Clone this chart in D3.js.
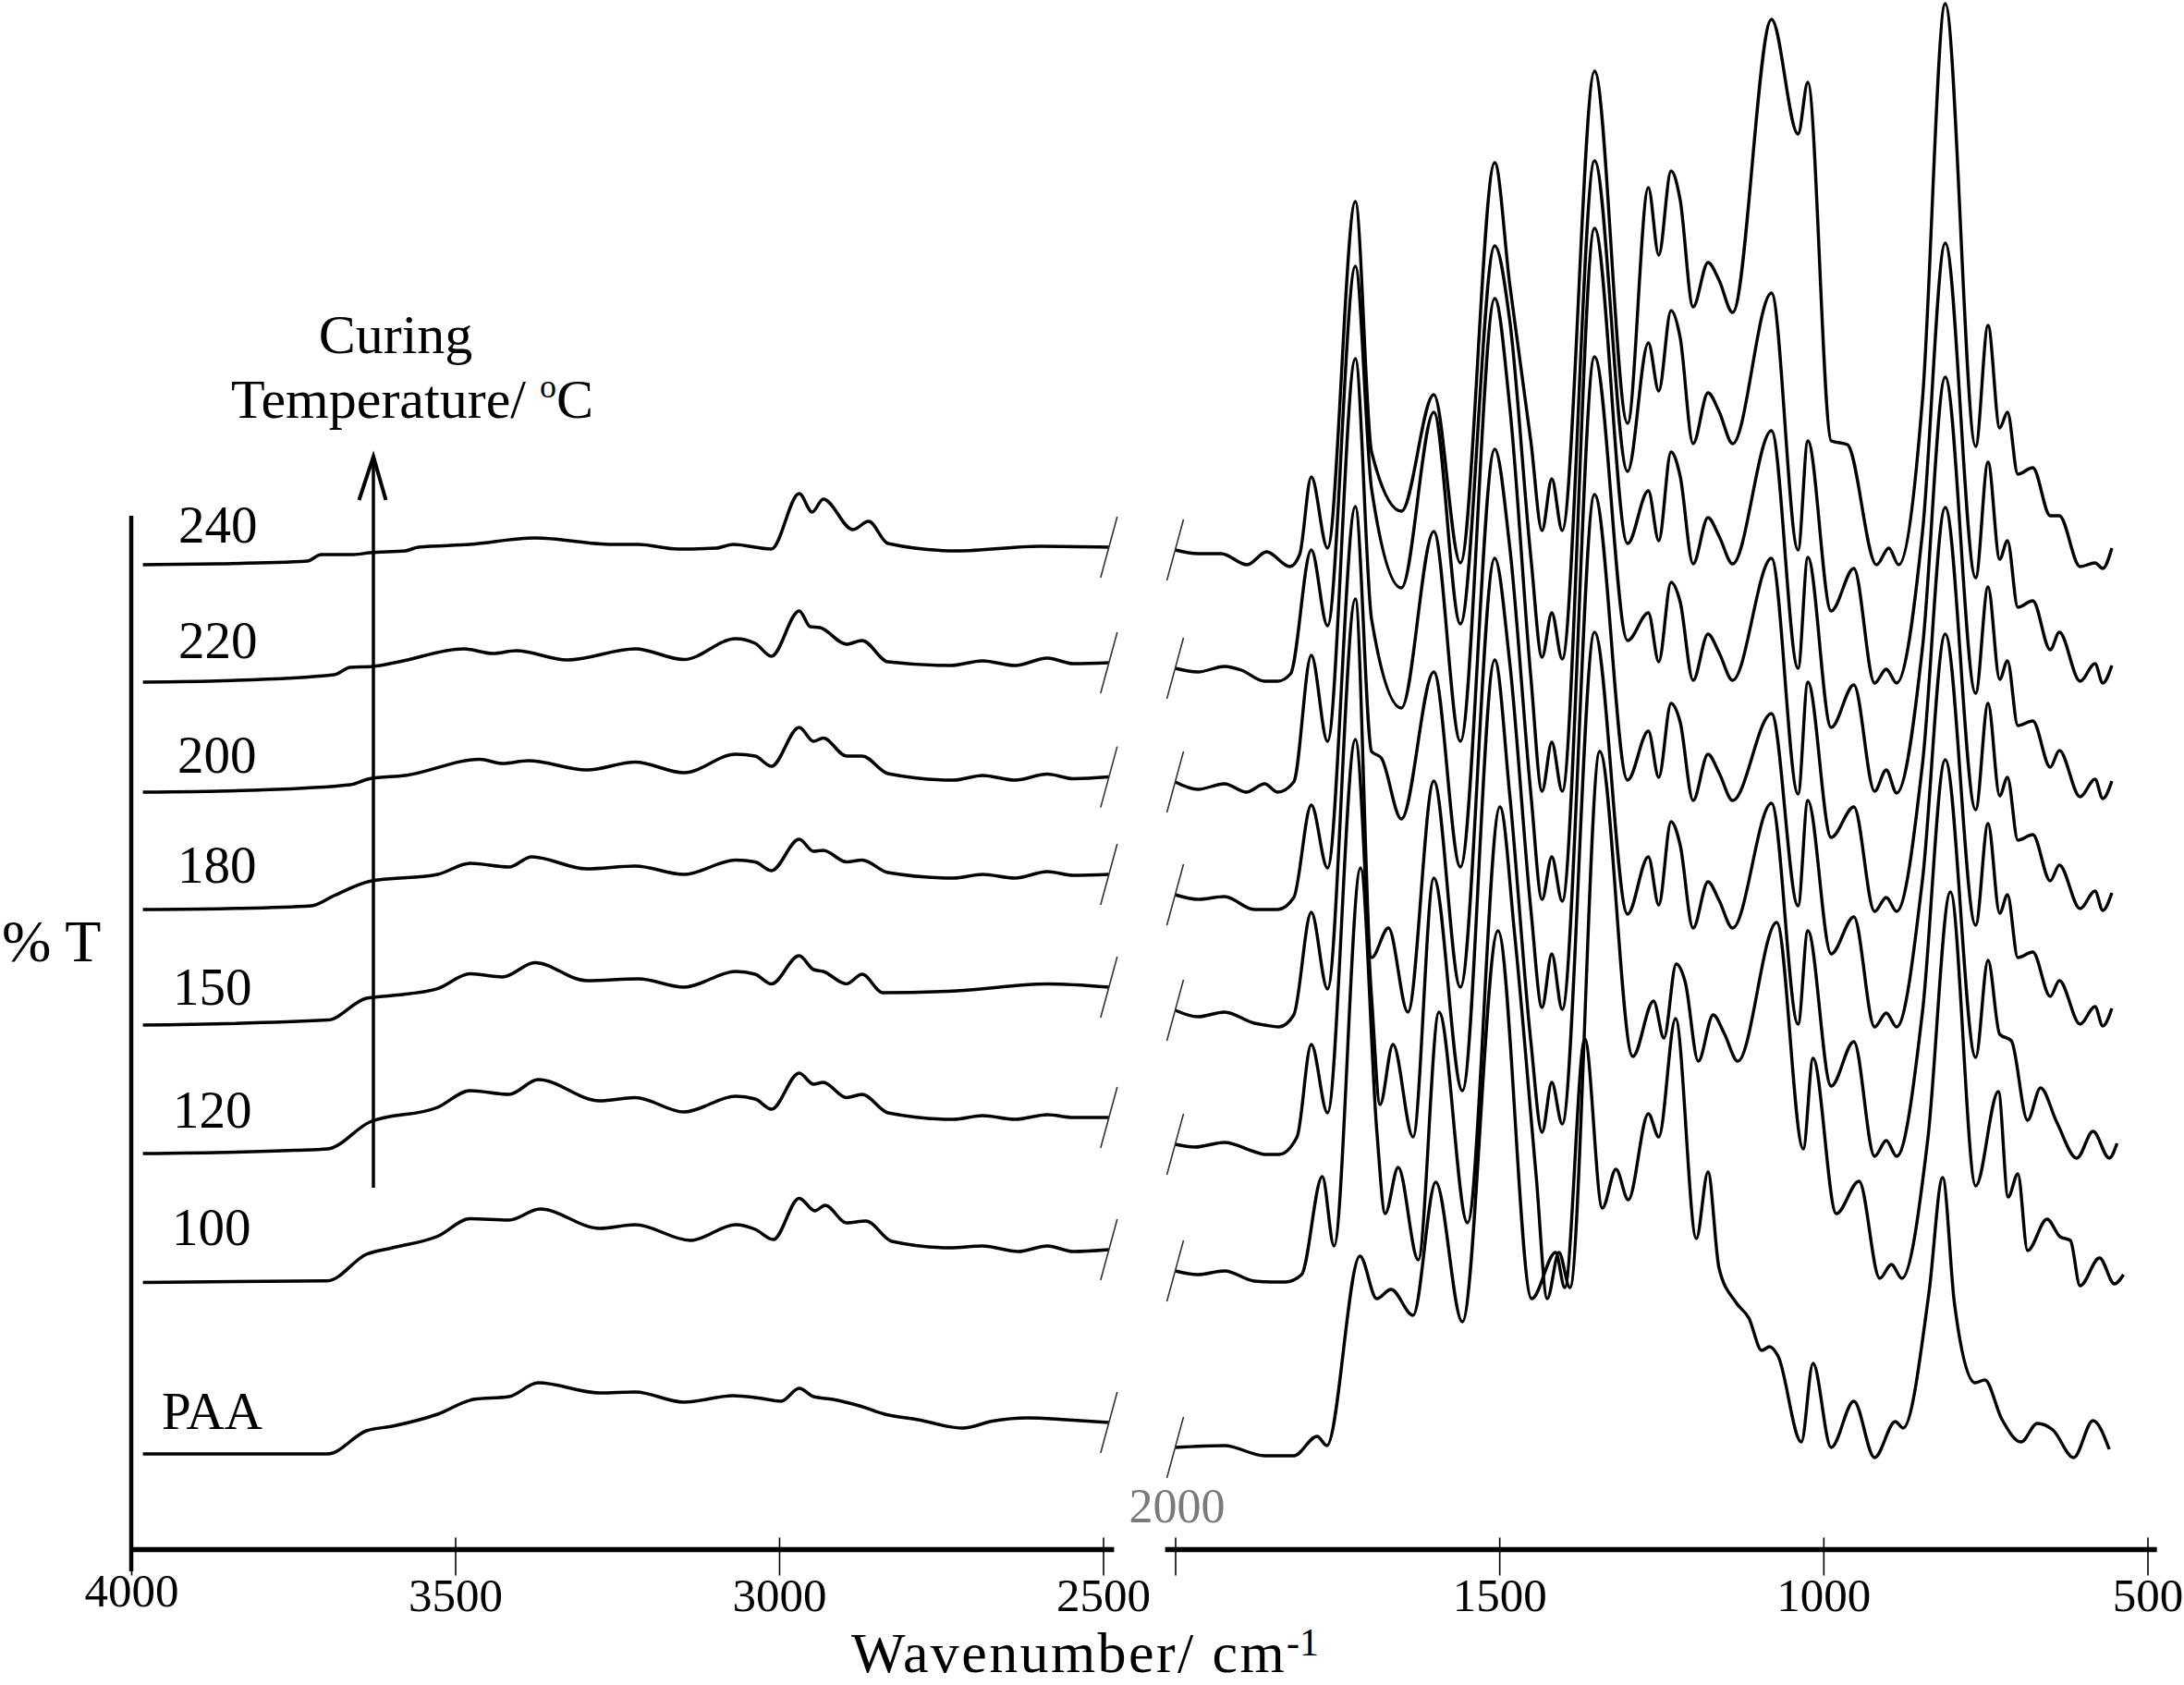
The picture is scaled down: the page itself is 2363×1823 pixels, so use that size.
<!DOCTYPE html>
<html><head><meta charset="utf-8">
<script src="https://cdn.jsdelivr.net/npm/d3@7"></script>
<style>body{margin:0;background:#fff}svg{display:block}text{font-family:"Liberation Serif","Times New Roman",serif;fill:#000}</style>
</head><body>
<svg id="chart" width="2363" height="1823"></svg>
<script>
// ---------------- DATA ----------------
const seriesNames = ["240","220","200","180","150","120","100","PAA"];
// vertical offset of each spectrum (arbitrary %T units)
const offsets = [1083, 951, 826, 705, 580, 437, 303, 112];
const leftTicks = [4000, 3500, 3000, 2500];
const rightTicks = [1500, 1000, 500];
const breakTickLabel = 2000;

// left region: [wavenumber, relative %T]
const L240 = [[3982,-18],[3867,-17],[3728,-14],[3707,-7],[3657,-7],[3632,-5],[3577,-3],[3557,1],[3477,4],[3377,11],[3257,4],[3217,4],[3157,-1],[3097,0],[3071,4],[3012,-1],[2969,59],[2949,39],[2932,53],[2886,20],[2862,29],[2832,5],[2726,-3],[2597,2],[2491,1]];
const L220 = [[3982,-13],[3857,-11.5],[3687,-5],[3662,3],[3627,4],[3587,9],[3487,23],[3442,18],[3406,21],[3327,11],[3222,23],[3147,11.5],[3067,34],[3037,29],[3012,15],[2969,64],[2952,47],[2937,46],[2896,28],[2872,32],[2832,9],[2736,5],[2686,10],[2636,5],[2586,13],[2546,7],[2491,8]];
const L200 = [[3982,-7],[3817,-5],[3662,1],[3632,7.5],[3577,11],[3462,28.5],[3427,24],[3387,27],[3297,17],[3222,25.5],[3147,14],[3067,34],[3037,32],[3012,21],[2969,63],[2947,48],[2932,51.5],[2896,32],[2872,32],[2832,13],[2731,6],[2686,11],[2636,6],[2586,12.5],[2546,7.5],[2491,9.4]];
const L180 = [[3982,-13],[3852,-12],[3722,-9],[3687,2],[3632,17.5],[3527,25],[3477,37],[3417,33],[3382,44],[3297,31],[3222,34],[3147,25],[3067,40.5],[3037,38.5],[3012,29],[2969,63],[2947,50],[2932,51],[2896,38.5],[2872,40.5],[2832,27],[2731,21],[2686,25],[2636,21],[2586,28],[2546,24],[2491,25]];
const L150 = [[3982,-13],[3697,-7.6],[3637,16],[3597,19],[3527,26.4],[3477,42.4],[3427,39],[3377,54.5],[3297,35],[3217,37],[3147,28],[3067,45],[3037,42],[3012,31.5],[2969,62],[2947,47],[2932,45],[2896,31.5],[2872,42],[2840,22],[2726,24],[2586,31.5],[2491,28]];
const L120 = [[3982,-9],[3748,-5.6],[3697,-4],[3632,25],[3527,41],[3477,59],[3417,55],[3372,71],[3277,48],[3222,51.5],[3147,36],[3067,53],[3037,50],[3012,39],[2969,78],[2947,66],[2932,68],[2896,51.5],[2872,55],[2832,35],[2731,28],[2686,32],[2636,28],[2586,33],[2546,30],[2491,30]];
const L100 = [[3982,-14.5],[3697,-12.7],[3637,16],[3597,23],[3527,35.5],[3477,54.4],[3417,53],[3369,65],[3277,44],[3222,48],[3137,31],[3067,48],[3037,43],[3009,32],[2969,76.6],[2945,63],[2929,69],[2896,50],[2866,52],[2826,30],[2736,23],[2686,25],[2631,19],[2586,25],[2546,19],[2491,21]];
const LPAA = [[3982,-9],[3697,-9],[3637,16],[3597,21],[3527,34],[3472,50],[3417,53],[3372,68],[3277,57],[3222,58],[3147,47],[3071,54],[3032,51.5],[2997,48],[2969,62],[2947,53],[2917,50],[2876,43],[2837,34],[2786,28],[2716,19],[2671,26.5],[2616,30],[2557,28],[2491,25]];

// right region: [wavenumber, relative %T]
const R240 = [[2000,-2],[1965,-6],[1929,-6],[1889,-18],[1859,-4],[1823,-20],[1808,-7],[1790,77],[1765,0],[1722,375],[1697,104],[1651,40],[1601,166],[1560,-16],[1507,417],[1484,286],[1451,114],[1434,19],[1419,75],[1403,19],[1353,516],[1302,135],[1270,390],[1254,317],[1235,408],[1221,377],[1201,261],[1178,309],[1161,290],[1140,255],[1080,572],[1039,448],[1024,504],[988,116],[963,112],[918,-18],[899,0],[884,-18],[847,162],[812,589],[765,110],[746,241],[728,130],[716,147],[700,80],[677,87],[650,35],[636,35],[604,-20],[581,-16],[569,-22],[555,0]];
const R220 = [[2000,2],[1965,-2],[1924,4],[1898,0],[1862,-12],[1842,-12],[1822,-4],[1790,130],[1765,48],[1722,437],[1697,196],[1651,89],[1601,279],[1560,50],[1507,459],[1484,379],[1451,120],[1434,14],[1419,62],[1403,12],[1353,551],[1302,215],[1270,354],[1254,302],[1235,389],[1221,360],[1201,245],[1178,300],[1161,280],[1140,245],[1080,408],[1039,130],[1024,248],[988,64],[953,110],[921,-14],[903,1],[887,-14],[847,150],[812,462],[765,100],[746,225],[728,120],[716,140],[700,68],[677,75],[650,22],[636,41],[604,-12],[581,7],[569,-14],[555,5]];
const R200 = [[2000,4],[1965,-4],[1924,2],[1890,-7],[1862,2],[1842,-7],[1817,4],[1790,141],[1765,48],[1722,462],[1697,180],[1651,84],[1601,275],[1560,48],[1507,527],[1484,411],[1451,115],[1434,-6],[1419,47],[1403,-6],[1353,603],[1302,262],[1270,319],[1254,265],[1235,361],[1221,335],[1201,240],[1178,290],[1161,270],[1140,240],[1080,384],[1039,127],[1024,247],[988,63],[953,109],[921,-6],[903,17],[887,-8],[847,150],[812,442],[765,100],[746,215],[728,115],[716,135],[700,65],[677,70],[650,20],[636,38],[604,-12],[581,7],[569,-14],[555,5]];
const R180 = [[2000,3],[1965,-2],[1924,1],[1878,-13],[1842,-13],[1817,0],[1790,100],[1765,32],[1722,423],[1697,158],[1682,151],[1651,85],[1601,244],[1560,33],[1507,485],[1484,380],[1451,110],[1434,-2],[1419,44],[1403,-4],[1353,585],[1302,278],[1270,308],[1254,255],[1235,341],[1221,320],[1201,235],[1178,285],[1161,265],[1140,235],[1080,367],[1039,112],[1024,233],[988,65],[953,98],[921,-15],[903,0],[887,-15],[847,145],[812,422],[765,95],[746,210],[728,110],[716,130],[700,62],[677,68],[650,18],[636,35],[604,-12],[581,7],[569,-14],[555,5]];
const R150 = [[2000,3],[1965,-4],[1924,1],[1878,-11],[1862,-13],[1840,-15],[1817,-2],[1790,109],[1765,26],[1722,448],[1697,60],[1671,92],[1641,1],[1601,251],[1560,28],[1507,492],[1484,380],[1451,110],[1434,6],[1419,64],[1403,4],[1353,561],[1302,252],[1270,305],[1254,255],[1235,335],[1221,315],[1201,230],[1178,280],[1161,260],[1140,230],[1080,324],[1039,116],[1024,230],[988,64],[953,104],[921,-15],[903,0],[887,-15],[847,145],[812,410],[765,95],[746,205],[728,108],[716,128],[700,60],[677,66],[650,18],[636,35],[604,-12],[581,7],[569,-14],[555,5]];
const R120 = [[2000,1],[1970,-2],[1924,3],[1878,-7],[1862,-10],[1840,-10],[1812,9],[1790,109],[1765,35],[1722,439],[1697,160],[1684,44],[1664,109],[1633,9],[1601,289],[1557,59],[1507,525],[1484,380],[1451,110],[1434,14],[1419,68],[1403,23],[1353,555],[1302,250],[1270,312],[1254,260],[1235,350],[1221,325],[1201,235],[1178,285],[1161,265],[1140,235],[1080,370],[1039,131],[1024,232],[988,64],[953,112],[921,-12],[903,5],[887,-12],[847,145],[812,417],[765,95],[746,200],[728,120],[710,113],[685,27],[665,62],[640,25],[609,-14],[584,15],[559,-14],[547,2]];
const R100 = [[2000,-2],[1965,-6],[1924,-2],[1878,-13],[1850,-14],[1830,-14],[1805,-6],[1773,100],[1755,25],[1714,434],[1689,150],[1676,60],[1656,110],[1625,10],[1593,278],[1549,50],[1499,500],[1476,360],[1443,100],[1426,-32],[1408,18],[1391,-20],[1345,560],[1294,230],[1262,290],[1246,250],[1227,330],[1213,310],[1193,225],[1170,275],[1153,255],[1132,225],[1072,375],[1031,130],[1016,228],[980,60],[945,95],[913,-10],[895,5],[879,-10],[839,140],[804,408],[765,90],[730,192],[715,78],[700,103],[685,20],[655,54],[635,35],[619,31],[604,-18],[574,12],[551,-16],[537,-6]];
const RPAA = [[2000,-2],[1924,0],[1862,-11],[1817,-11],[1781,10],[1766,0],[1715,205],[1689,159],[1667,169],[1633,141],[1598,285],[1557,134],[1502,557],[1450,159],[1413,209],[1399,171],[1368,440],[1341,257],[1320,299],[1301,266],[1270,359],[1254,334],[1228,462],[1196,224],[1178,296],[1161,192],[1135,155],[1115,138],[1095,103],[1083,107],[1070,97],[1034,4],[1016,89],[988,-2],[953,48],[921,-13],[889,26],[877,19],[837,166],[816,290],[798,155],[766,68],[751,71],[725,29],[695,4],[670,24],[646,17],[614,-13],[584,27],[559,-4]];

const leftData  = [L240, L220, L200, L180, L150, L120, L100, LPAA];
const rightData = [R240, R220, R200, R180, R150, R120, R100, RPAA];

// ---------------- DRAW ----------------
const svg = d3.select("#chart");
const axisY = 1676.5;
const xL = d3.scaleLinear().domain([4000, 2500]).range([142, 1193.5]);
const xR = d3.scaleLinear().domain([2000, 500]).range([1271.5, 2323.5]);
const y  = d3.scaleLinear().domain([0, 1676]).range([1676, 0]);
const serif = '"Liberation Serif","Times New Roman",serif';

seriesNames.forEach((name, i) => {
  const off = offsets[i];
  const lineL = d3.line().x(d => xL(d[0])).y(d => y(off + d[1])).curve(d3.curveMonotoneX);
  const lineR = d3.line().x(d => xR(d[0])).y(d => y(off + d[1])).curve(d3.curveMonotoneX);
  const l = leftData[i].slice().sort((a,b)=>b[0]-a[0]);
  const r = rightData[i].slice().sort((a,b)=>b[0]-a[0]);
  svg.append("path").attr("d", lineL(l))
     .attr("fill","none").attr("stroke","#000").attr("stroke-width",3.5).attr("stroke-linejoin","round");
  svg.append("path").attr("d", lineR(r))
     .attr("fill","none").attr("stroke","#000").attr("stroke-width",3.4).attr("stroke-linejoin","round");
  const le = l[l.length-1], rs = r[0];
  [[xL(le[0]), y(off + le[1])],[xR(rs[0]), y(off + rs[1])]].forEach(([bx,by]) => {
    svg.append("line").attr("x1",bx+9).attr("y1",by-33).attr("x2",bx-9).attr("y2",by+33)
       .attr("stroke","#333").attr("stroke-width",1.6);
  });
});

const labelPos = [[193,587],[193,712],[192,836],[192,955],[187,1087],[187,1220],[186,1347],[175,1546]];
seriesNames.forEach((name,i)=>{
  svg.append("text").attr("x",labelPos[i][0]).attr("y",labelPos[i][1])
     .style("font-size","57px").text(name);
});

// y axis line
svg.append("line").attr("x1",142).attr("x2",142).attr("y1",558).attr("y2",1700)
   .attr("stroke","#000").attr("stroke-width",4.5);

// x axis (two segments)
svg.append("line").attr("x1",xL(4000)).attr("x2",xL(2483)).attr("y1",axisY).attr("y2",axisY)
   .attr("stroke","#000").attr("stroke-width",5.5);
svg.append("line").attr("x1",xR(2015.5)).attr("x2",xR(485.5)).attr("y1",axisY).attr("y2",axisY)
   .attr("stroke","#000").attr("stroke-width",5.5);

function styleAxis(g){
  g.select(".domain").remove();
  g.selectAll(".tick line").attr("y1",-13).attr("y2",28).attr("stroke","#000").attr("stroke-width",1.6);
  g.selectAll(".tick text").attr("y",66).attr("dy",0).attr("fill","#000")
    .style("font-family",serif).style("font-size","51px");
}
const gL = svg.append("g").attr("transform",`translate(0,${axisY})`)
  .call(d3.axisBottom(xL).tickValues(leftTicks).tickFormat(d3.format("d")));
styleAxis(gL);
gL.selectAll(".tick").filter(d=>d===4000).select("text").attr("y",61);
const gR = svg.append("g").attr("transform",`translate(0,${axisY})`)
  .call(d3.axisBottom(xR).tickValues([breakTickLabel].concat(rightTicks)).tickFormat(d=> d===breakTickLabel ? "" : d3.format("d")(d)));
styleAxis(gR);
svg.append("text").attr("x",xR(breakTickLabel)+2).attr("y",1647).attr("text-anchor","middle")
   .style("font-size","52px").style("fill","#7a7a7a").text(String(breakTickLabel));

// axis titles
const xt = svg.append("text").attr("x",921).attr("y",1809).style("font-size","62px");
xt.append("tspan").style("letter-spacing","2.4px").text("Wavenumber/ cm");
xt.append("tspan").attr("dy",-18).style("font-size","42px").text("-1");

svg.append("text").attr("x",2).attr("y",1040).style("font-size","64px").text("% T");

// curing temperature annotation
svg.append("text").attr("x",428).attr("y",382).attr("text-anchor","middle").style("font-size","60px").text("Curing");
const tt = svg.append("text").attr("x",250).attr("y",452).style("font-size","60px");
tt.append("tspan").text("Temperature/ ");
tt.append("tspan").attr("dy",-22).style("font-size","36px").text("o");
tt.append("tspan").attr("dy",22).style("font-size","60px").text("C");

// arrow
svg.append("line").attr("x1",404).attr("x2",404).attr("y1",1285).attr("y2",497)
   .attr("stroke","#000").attr("stroke-width",3.5);
svg.append("path").attr("d","M388.5,541 L404,494 L417.5,541").attr("fill","none")
   .attr("stroke","#000").attr("stroke-width",4).attr("stroke-linejoin","miter");
</script>
</body></html>
